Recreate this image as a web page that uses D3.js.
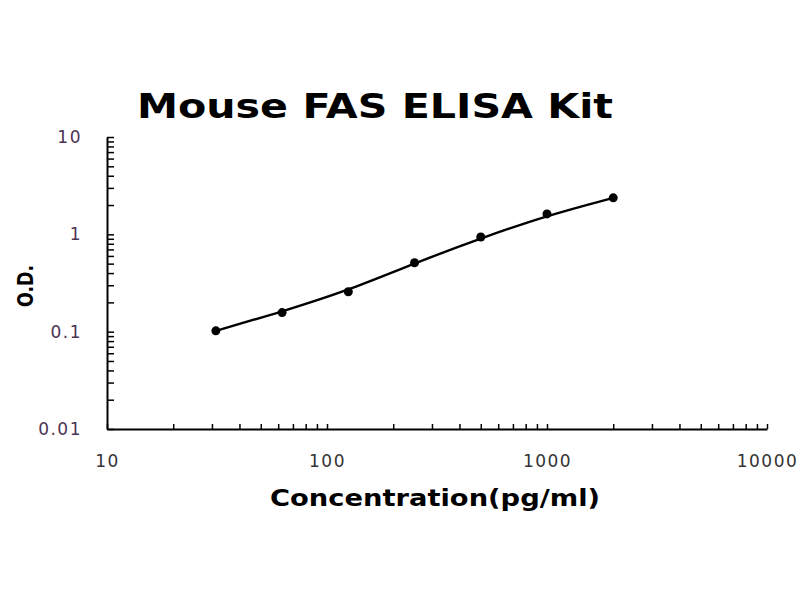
<!DOCTYPE html>
<html>
<head>
<meta charset="utf-8">
<script src="https://cdn.jsdelivr.net/npm/d3@7"></script>
<style>
  html, body { margin: 0; padding: 0; background: #fff; }
  svg { display: block; }
</style>
</head>
<body>
<svg id="chart" width="800" height="600"></svg>
<script>
const title = "Mouse FAS ELISA Kit";
const xLabel = "Concentration(pg/ml)";
const yLabel = "O.D.";
const concentrations = [31.25, 62.5, 125, 250, 500, 1000, 2000];
const odValues = [0.102, 0.157, 0.257, 0.51, 0.94, 1.62, 2.37];
const xTickLabels = [10, 100, 1000, 10000];
const yTickLabels = [0.01, 0.1, 1, 10];

const svg = d3.select("#chart");
const x = d3.scaleLog().domain([10, 10000]).range([107, 767]);
const y = d3.scaleLog().domain([0.01, 10]).range([429, 137]);

function allTicks(lo, hi) {
  const t = [];
  for (let d = lo; d < hi; d *= 10) for (let k = 1; k <= 9; k++) t.push(d * k);
  t.push(hi);
  return t;
}

// X axis
const gx = svg.append("g").attr("transform", "translate(0,429)")
  .call(d3.axisBottom(x).tickValues(allTicks(10, 10000)).tickSizeInner(-5).tickSizeOuter(0)
    .tickPadding(26).tickFormat(v => xTickLabels.includes(Math.round(v)) ? String(Math.round(v)) : ""));
gx.select(".domain").attr("stroke", "#000").attr("stroke-width", 2);
gx.selectAll(".tick line").attr("stroke", "#000").attr("stroke-width", 1.5);
gx.selectAll(".tick text").attr("font-family", "DejaVu Sans").attr("font-size", 17)
  .attr("letter-spacing", "1.5px").attr("fill", "#333");

// Y axis
const gy = svg.append("g").attr("transform", "translate(107,0)")
  .call(d3.axisLeft(y).tickValues(allTicks(0.01, 10)).tickSizeInner(-7).tickSizeOuter(0)
    .tickPadding(25).tickFormat(v => {
      const r = yTickLabels.find(t => Math.abs(t - v) / t < 1e-6);
      return r !== undefined ? String(r) : "";
    }));
gy.select(".domain").attr("stroke", "#000").attr("stroke-width", 2);
gy.selectAll(".tick line").attr("stroke", "#000").attr("stroke-width", 1.5);
gy.selectAll(".tick text").attr("font-family", "DejaVu Sans").attr("font-size", 17)
  .attr("letter-spacing", "1.5px").attr("fill", "#4d3352");

// Curve
const pts = concentrations.map((c, i) => [c, odValues[i]]);
const line = d3.line().x(d => x(d[0])).y(d => y(d[1])).curve(d3.curveBundle.beta(0.75));
svg.append("path").datum(pts).attr("d", line)
  .attr("fill", "none").attr("stroke", "#000").attr("stroke-width", 2.4);

svg.selectAll("circle.pt").data(pts).enter().append("circle").attr("class", "pt")
  .attr("cx", d => x(d[0])).attr("cy", d => y(d[1])).attr("r", 4.5).attr("fill", "#000");

// Title
svg.append("text").attr("x", 137).attr("y", 118)
  .attr("font-family", "DejaVu Sans, sans-serif").attr("font-weight", "bold")
  .attr("font-size", 33).attr("fill", "#000")
  .attr("textLength", 476).attr("lengthAdjust", "spacingAndGlyphs").text(title);

// X label
svg.append("text").attr("x", 270).attr("y", 506)
  .attr("font-family", "DejaVu Sans, sans-serif").attr("font-weight", "bold")
  .attr("font-size", 23).attr("fill", "#000")
  .attr("textLength", 330).attr("lengthAdjust", "spacingAndGlyphs").text(xLabel);

// Y label
svg.append("text").attr("transform", "translate(33,307) rotate(-90)")
  .attr("font-family", "DejaVu Sans, sans-serif").attr("font-weight", "bold")
  .attr("font-size", 21).attr("fill", "#000")
  .attr("textLength", 42).attr("lengthAdjust", "spacingAndGlyphs").text(yLabel);
</script>
</body>
</html>
